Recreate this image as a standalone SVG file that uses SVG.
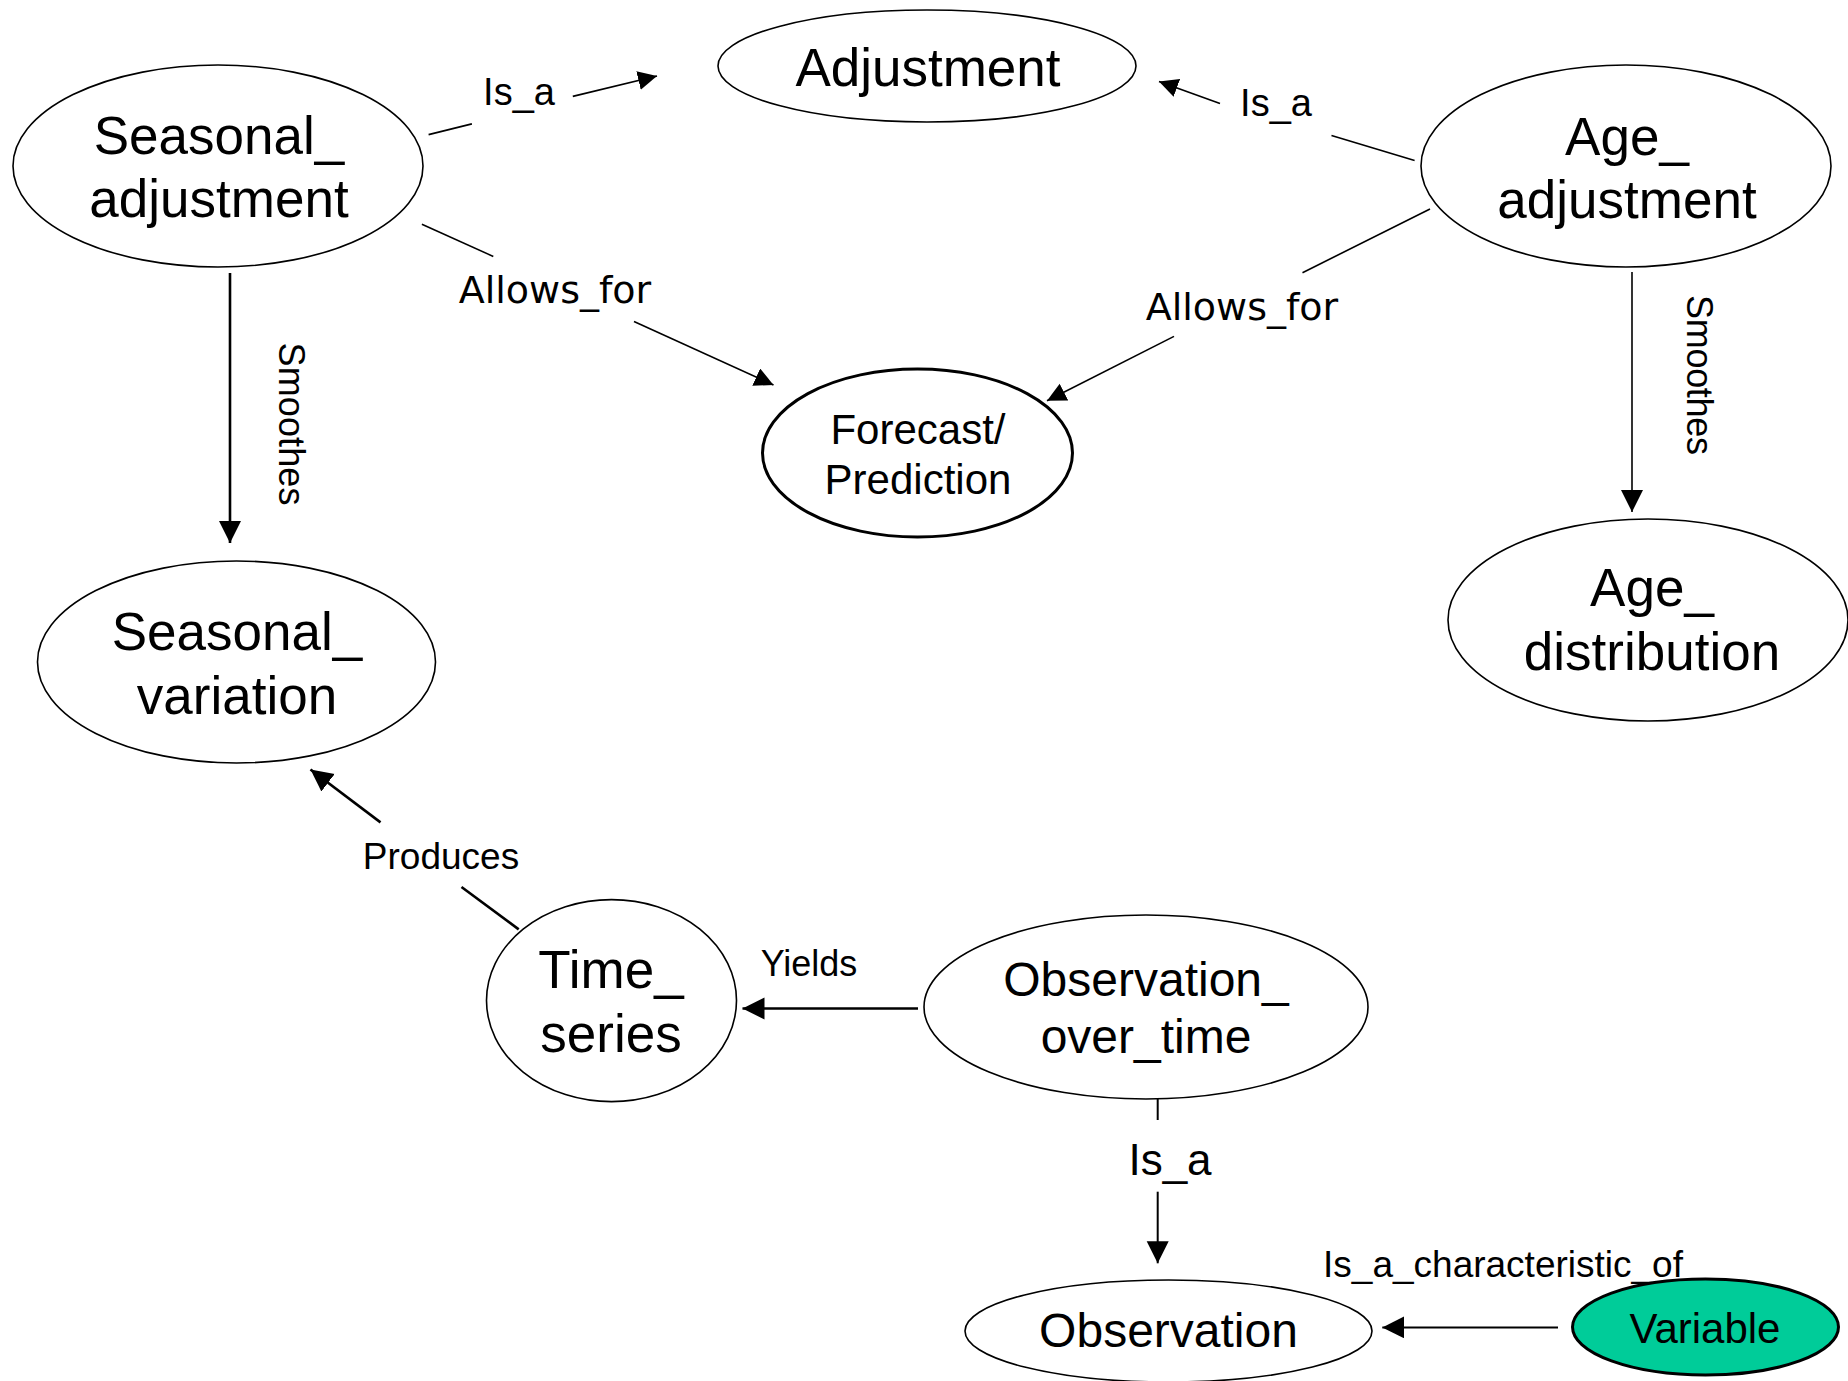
<svg xmlns="http://www.w3.org/2000/svg" width="1848" height="1381" viewBox="0 0 1848 1381">
<style>
.node ellipse{fill:#fff;stroke:#000;stroke-width:1.6}
.node ellipse.thick{stroke-width:3}
.node ellipse.green{fill:#00CC99}
.nt{font-family:"Liberation Sans",Arial,sans-serif;fill:#000;text-anchor:middle}
.n53{font-size:53px}
.n48{font-size:48px}
.n42{font-size:42px}
.edges line{stroke:#000;stroke-width:1.6;fill:none}
.edges line.w{stroke-width:2.6}
.lbl{font-family:"Liberation Sans",Arial,sans-serif;fill:#000;text-anchor:middle}
.dv{font-family:"DejaVu Sans",Verdana,sans-serif;fill:#000;text-anchor:middle}
</style>
<defs>
<marker id="ah" markerUnits="userSpaceOnUse" markerWidth="20" markerHeight="20" refX="19" refY="9.5" orient="auto" viewBox="0 0 20 20">
<path d="M0,0 L19,9.5 L0,19 z" fill="#000"/>
</marker>
<marker id="ahL" markerUnits="userSpaceOnUse" markerWidth="24" markerHeight="24" refX="22" refY="11" orient="auto" viewBox="0 0 24 24">
<path d="M0,0 L22,11 L0,22 z" fill="#000"/>
</marker>
</defs>
<rect width="1848" height="1381" fill="#fff"/>

<g id="edges" class="edges">
<g id="e-sa-adj">
<line x1="428.6" y1="134.6" x2="471.9" y2="123.9"/>
<line x1="572.8" y1="96.4" x2="657" y2="76" marker-end="url(#ah)"/>
<text class="lbl" x="519" y="105" font-size="38">Is_a</text>
</g>
<g id="e-aa-adj">
<line x1="1414.6" y1="160.4" x2="1331.5" y2="135.4"/>
<line x1="1220" y1="103.6" x2="1159" y2="81.4" marker-end="url(#ah)"/>
<text class="lbl" x="1276" y="116" font-size="38">Is_a</text>
</g>
<g id="e-sa-fp">
<line x1="421.9" y1="224.3" x2="493.3" y2="256.4"/>
<line x1="634" y1="321.4" x2="773.5" y2="385" marker-end="url(#ah)"/>
<text class="dv" x="555" y="303" font-size="38">Allows_for</text>
</g>
<g id="e-aa-fp">
<line x1="1430" y1="209" x2="1302.5" y2="272.7"/>
<line x1="1174" y1="336.4" x2="1047" y2="400.7" marker-end="url(#ah)"/>
<text class="dv" x="1242" y="320" font-size="38">Allows_for</text>
</g>
<g id="e-sa-sv">
<line class="w" x1="230" y1="273" x2="230" y2="543" marker-end="url(#ahL)"/>
<text class="lbl" font-size="36" textLength="163" lengthAdjust="spacing" transform="translate(279,424) rotate(90)" x="0" y="0">Smoothes</text>
</g>
<g id="e-aa-ad">
<line x1="1632" y1="272" x2="1632" y2="512" marker-end="url(#ahL)"/>
<text class="lbl" font-size="36" textLength="160" lengthAdjust="spacing" transform="translate(1687,375) rotate(90)" x="0" y="0">Smoothes</text>
</g>
<g id="e-ts-sv">
<line class="w" x1="518.7" y1="929.4" x2="461.5" y2="887"/>
<line class="w" x1="380.5" y1="822.4" x2="310.5" y2="769.5" marker-end="url(#ahL)"/>
<text class="lbl" x="441" y="868.6" font-size="37">Produces</text>
</g>
<g id="e-oot-ts">
<line class="w" x1="918" y1="1008.5" x2="742.5" y2="1008.5" marker-end="url(#ahL)"/>
<text class="lbl" x="809" y="976" font-size="36">Yields</text>
</g>
<g id="e-oot-obs">
<line x1="1157.7" y1="1088" x2="1157.7" y2="1120" style="stroke-width:2"/>
<line x1="1157.7" y1="1191.7" x2="1157.7" y2="1263.3" style="stroke-width:2" marker-end="url(#ahL)"/>
<text class="lbl" x="1170" y="1175" font-size="44">Is_a</text>
</g>
<g id="e-var-obs">
<line x1="1558" y1="1327.4" x2="1382.3" y2="1327.4" style="stroke-width:2" marker-end="url(#ahL)"/>
<text class="lbl" x="1503" y="1277" font-size="37">Is_a_characteristic_of</text>
</g>
</g>

<g id="n-adjustment" class="node">
<ellipse cx="927" cy="66" rx="209" ry="56"/>
<text class="nt n53" x="928" y="86">Adjustment</text>
</g>
<g id="n-seasonal-adjustment" class="node">
<ellipse cx="218" cy="166" rx="205" ry="101"/>
<text class="nt n53" x="219" y="154">Seasonal_</text>
<text class="nt n53" x="219" y="217">adjustment</text>
</g>
<g id="n-age-adjustment" class="node">
<ellipse cx="1626" cy="166" rx="205" ry="101"/>
<text class="nt n53" x="1627" y="155">Age_</text>
<text class="nt n53" x="1627" y="218">adjustment</text>
</g>
<g id="n-forecast" class="node">
<ellipse class="thick" cx="917.5" cy="453" rx="155" ry="84"/>
<text class="nt n42" x="918" y="444">Forecast/</text>
<text class="nt n42" x="918" y="494">Prediction</text>
</g>
<g id="n-seasonal-variation" class="node">
<ellipse cx="236.5" cy="662" rx="199" ry="101"/>
<text class="nt n53" x="237" y="650">Seasonal_</text>
<text class="nt n53" x="237" y="714">variation</text>
</g>
<g id="n-age-distribution" class="node">
<ellipse cx="1648" cy="620" rx="200" ry="101"/>
<text class="nt n53" x="1652" y="606">Age_</text>
<text class="nt n53" x="1652" y="670">distribution</text>
</g>
<g id="n-time-series" class="node">
<ellipse cx="611.5" cy="1000.6" rx="125" ry="101"/>
<text class="nt n53" x="611" y="988">Time_</text>
<text class="nt n53" x="611" y="1052">series</text>
</g>
<g id="n-observation-over-time" class="node">
<ellipse cx="1146" cy="1007" rx="222" ry="92"/>
<text class="nt n48" x="1146" y="996">Observation_</text>
<text class="nt n48" x="1146" y="1053">over_time</text>
</g>
<g id="n-observation" class="node">
<ellipse cx="1168.5" cy="1331" rx="203.5" ry="51"/>
<text class="nt n48" x="1168.5" y="1347">Observation</text>
</g>
<g id="n-variable" class="node">
<ellipse class="thick green" cx="1705.5" cy="1327" rx="133" ry="48"/>
<text class="nt n42" x="1705" y="1343">Variable</text>
</g>
</svg>
